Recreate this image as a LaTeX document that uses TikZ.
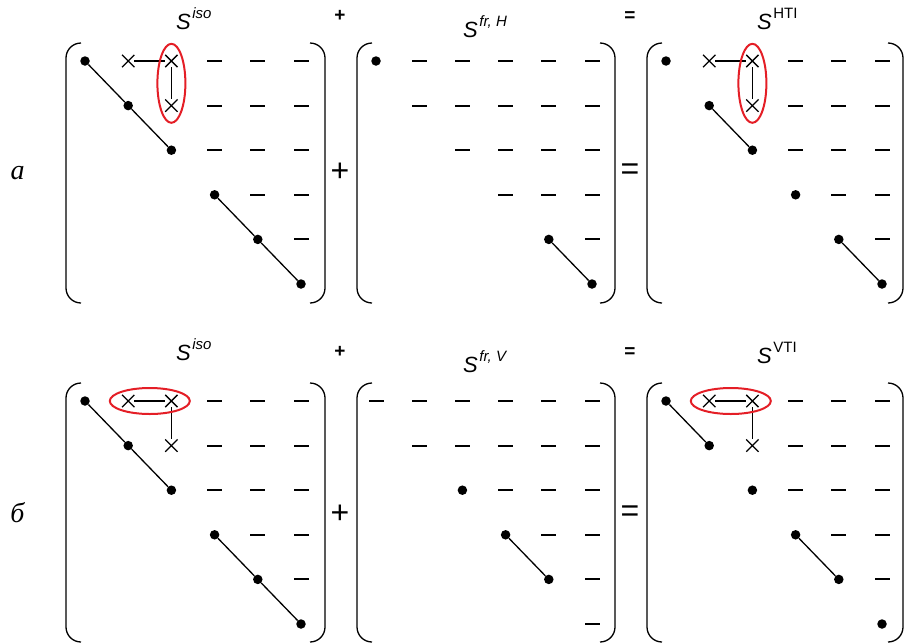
\documentclass[tikz,border=0pt]{standalone}
\usepackage{fontspec}
\setsansfont{Liberation Sans}
\newfontfamily\cyrserif{Liberation Serif}
\usetikzlibrary{shapes.misc,shapes.geometric}
\definecolor{ellred}{RGB}{228,30,38}
\tikzset{
  dotn/.style={circle,fill=black,inner sep=0pt,minimum size=9.5pt},
  crossn/.style={cross out,draw=black,line width=1.3pt,inner sep=0pt,minimum size=11pt},
  dashn/.style={rectangle,fill=black,inner sep=0pt,minimum width=15pt,minimum height=2pt},
  link/.style={draw=black,line width=1.3pt},
  brk/.style={draw=black,line width=1.3pt,rounded corners=15pt},
  ringv/.style={ellipse,draw=ellred,line width=2pt,minimum width=28pt,minimum height=79pt,inner sep=0pt},
  ringh/.style={ellipse,draw=ellred,line width=2pt,minimum width=80pt,minimum height=26pt,inner sep=0pt},
  cellgrid/.style={x=43.2pt,y=-44.6pt},
  slab/.style={anchor=base west,inner sep=0pt},
  bigop/.style={inner sep=0pt,font=\fontsize{32}{32}\selectfont\sffamily},
  smallop/.style={inner sep=0pt,font=\fontsize{19}{19}\selectfont\sffamily\bfseries},
  rowlab/.style={anchor=base,inner sep=0pt,font=\fontsize{28}{28}\selectfont\cyrserif\itshape}
}
\newcommand\mdots[2]{\foreach \i/\j in {#2}{\node[dotn] (#1-\i-\j) at (\j-1,\i-1) {};}}
\newcommand\mcrosses[2]{\foreach \i/\j in {#2}{\node[crossn] (#1-\i-\j) at (\j-1,\i-1) {};}}
\newcommand\mdashes[2]{\foreach \i/\j in {#2}{\node[dashn] (#1-\i-\j) at (\j-1,\i-1) {};}}
\newcommand\Slab[1]{{\fontsize{22}{22}\selectfont\sffamily\itshape S}\kern1.5pt\raisebox{11pt}{\fontsize{15}{15}\selectfont\sffamily #1}}
\newcommand\mbrk[4]{%
  \draw[brk] (#1+15,#3) -- (#1,#3) -- (#1,#4) -- (#1+15,#4);
  \draw[brk] (#2-15,#3) -- (#2,#3) -- (#2,#4) -- (#2-15,#4);}
\begin{document}
\begin{tikzpicture}[x=1pt,y=-1pt]
\useasboundingbox (0,0) rectangle (904,643);

% ---------- row a ----------
\node[rowlab] (la) at (17.5,179) {а};
\node[slab] (lab-ai) at (176,29) {\Slab{\itshape iso}};
\node[slab] (lab-ah) at (463,37) {\Slab{\itshape fr, H}};
\node[slab] (lab-at) at (757,29) {\Slab{HTI}};
\node[smallop] (spa) at (340,16) {+};
\node[smallop] (sea) at (630,17) {=};
\node[bigop] (bpa) at (340,172) {+};
\node[bigop] (bea) at (630,172) {=};
\mbrk{66}{325}{43}{303}
\mbrk{357}{615}{43}{303}
\mbrk{647}{903}{43}{303}

\begin{scope}[xshift=85pt,yshift=-61pt,cellgrid]
  \mdots{ai}{1/1,2/2,3/3,4/4,5/5,6/6}
  \mcrosses{ai}{1/2,1/3,2/3}
  \mdashes{ai}{1/4,1/5,1/6,2/4,2/5,2/6,3/4,3/5,3/6,4/5,4/6,5/6}
  \draw[link] (ai-1-1) -- (ai-2-2) -- (ai-3-3);
  \draw[link] (ai-4-4) -- (ai-5-5) -- (ai-6-6);
  \draw[link] (ai-1-2) -- (ai-1-3);
  \draw[link] (ai-1-3) -- (ai-2-3);
  \node[ringv] (ai-ring) at (2,0.5) {};
\end{scope}

\begin{scope}[xshift=376pt,yshift=-61pt,cellgrid]
  \mdots{ah}{1/1,5/5,6/6}
  \mdashes{ah}{1/2,1/3,1/4,1/5,1/6,2/2,2/3,2/4,2/5,2/6,3/3,3/4,3/5,3/6,4/4,4/5,4/6,5/6}
  \draw[link] (ah-5-5) -- (ah-6-6);
\end{scope}

\begin{scope}[xshift=666pt,yshift=-61pt,cellgrid]
  \mdots{at}{1/1,2/2,3/3,4/4,5/5,6/6}
  \mcrosses{at}{1/2,1/3,2/3}
  \mdashes{at}{1/4,1/5,1/6,2/4,2/5,2/6,3/4,3/5,3/6,4/5,4/6,5/6}
  \draw[link] (at-2-2) -- (at-3-3);
  \draw[link] (at-5-5) -- (at-6-6);
  \draw[link] (at-1-2) -- (at-1-3);
  \draw[link] (at-1-3) -- (at-2-3);
  \node[ringv] (at-ring) at (2,0.5) {};
\end{scope}

% ---------- row b ----------
\node[rowlab] (lb) at (17.5,522) {б};
\node[slab] (lab-bi) at (176,360) {\Slab{\itshape iso}};
\node[slab] (lab-bv) at (463,372) {\Slab{\itshape fr, V}};
\node[slab] (lab-bt) at (757,363) {\Slab{VTI}};
\node[smallop] (spb) at (340,352) {+};
\node[smallop] (seb) at (630,353) {=};
\node[bigop] (bpb) at (340,514) {+};
\node[bigop] (beb) at (630,514) {=};
\mbrk{66}{325}{383}{642}
\mbrk{357}{615}{383}{642}
\mbrk{647}{903}{383}{642}

\begin{scope}[xshift=85pt,yshift=-401pt,cellgrid]
  \mdots{bi}{1/1,2/2,3/3,4/4,5/5,6/6}
  \mcrosses{bi}{1/2,1/3,2/3}
  \mdashes{bi}{1/4,1/5,1/6,2/4,2/5,2/6,3/4,3/5,3/6,4/5,4/6,5/6}
  \draw[link] (bi-1-1) -- (bi-2-2) -- (bi-3-3);
  \draw[link] (bi-4-4) -- (bi-5-5) -- (bi-6-6);
  \draw[link] (bi-1-2) -- (bi-1-3);
  \draw[link] (bi-1-3) -- (bi-2-3);
  \node[ringh] (bi-ring) at (1.5,0) {};
\end{scope}

\begin{scope}[xshift=376pt,yshift=-401pt,cellgrid]
  \mdots{bv}{3/3,4/4,5/5}
  \mdashes{bv}{1/1,1/2,1/3,1/4,1/5,1/6,2/2,2/3,2/4,2/5,2/6,3/4,3/5,3/6,4/5,4/6,5/6,6/6}
  \draw[link] (bv-4-4) -- (bv-5-5);
\end{scope}

\begin{scope}[xshift=666pt,yshift=-401pt,cellgrid]
  \mdots{bt}{1/1,2/2,3/3,4/4,5/5,6/6}
  \mcrosses{bt}{1/2,1/3,2/3}
  \mdashes{bt}{1/4,1/5,1/6,2/4,2/5,2/6,3/4,3/5,3/6,4/5,4/6,5/6}
  \draw[link] (bt-1-1) -- (bt-2-2);
  \draw[link] (bt-4-4) -- (bt-5-5);
  \draw[link] (bt-1-2) -- (bt-1-3);
  \draw[link] (bt-1-3) -- (bt-2-3);
  \node[ringh] (bt-ring) at (1.5,0) {};
\end{scope}
\end{tikzpicture}
\end{document}
